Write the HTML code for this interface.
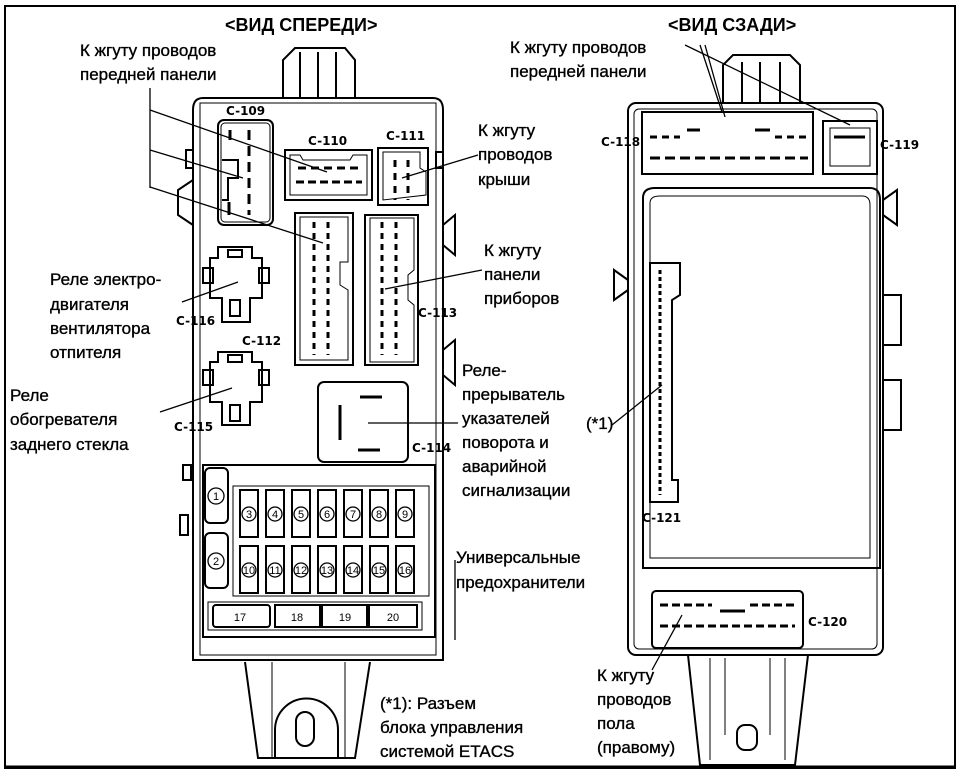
<!DOCTYPE html>
<html><head><meta charset="utf-8"><style>
html,body{margin:0;padding:0;background:#fff;}
svg{display:block}
text{font-family:"Liberation Sans",sans-serif;fill:#000;}
.l{font-size:17px;stroke:#000;stroke-width:0.35;}
.c{font-size:12px;font-weight:bold;font-family:"DejaVu Sans",sans-serif;}
.h{font-size:18px;font-weight:bold;}
</style></head><body>
<svg width="960" height="777" viewBox="0 0 960 777" xmlns="http://www.w3.org/2000/svg">
<rect x="5" y="6" width="950" height="762" fill="none" stroke="#000" stroke-width="2"/>
<line x1="5" y1="767" x2="955" y2="767" stroke="#000" stroke-width="3"/>
<g fill="none" stroke="#000" stroke-width="2">
<path d="M283,98 L283,60 L295,48 L345,48 L355,60 L355,98"/>
<line x1="300" y1="52" x2="300" y2="98"/><line x1="318" y1="52" x2="318" y2="98"/><line x1="336" y1="52" x2="336" y2="98"/>
<path d="M203,98 L433,98 Q443,98 443,110 L443,660 L193,660 L193,110 Q193,98 203,98 Z"/>
<path d="M200,103 L436,103 L436,655 L200,655 Z" stroke-width="1"/>
<path d="M193,180 L178,190 L178,215 L193,225"/><path d="M443,225 L455,215 L455,255 L443,245"/><path d="M443,350 L455,340 L455,385 L443,375"/>
<rect x="186" y="150" width="7" height="18"/><rect x="436" y="152" width="7" height="16"/>
<rect x="183" y="465" width="8" height="15"/><rect x="180" y="515" width="8" height="20"/>
<rect x="218" y="120" width="55" height="105" rx="6"/>
<rect x="221" y="123" width="49" height="99" rx="4" stroke-width="1"/>
<path d="M222,160 L238,160 L238,178 L228,178 L228,200 L222,200"/>
<line x1="230" y1="130" x2="230" y2="140" stroke-width="3"/>
<line x1="249" y1="130" x2="249" y2="215" stroke-width="3" stroke-dasharray="10,6"/>
<line x1="229" y1="202" x2="229" y2="215" stroke-width="3"/>
<path d="M285,150 L372,150 L372,200 L285,200 Z"/>
<path d="M290,155 L300,155 L303,160 L350,160 L353,155 L367,155 L367,195 L290,195 Z" stroke-width="1"/>
<line x1="298" y1="168" x2="360" y2="168" stroke-width="3" stroke-dasharray="8,5"/>
<line x1="296" y1="182" x2="362" y2="182" stroke-width="3" stroke-dasharray="8,4"/>
<path d="M378,148 L428,148 L428,205 L378,205 Z"/>
<path d="M383,152 L420,152 L420,168 L426,172 L426,195 L383,200 Z" stroke-width="1"/>
<line x1="395" y1="160" x2="395" y2="200" stroke-width="3" stroke-dasharray="7,6"/>
<line x1="408" y1="160" x2="408" y2="200" stroke-width="3" stroke-dasharray="7,6"/>
<rect x="295" y="213" width="58" height="152"/>
<path d="M300,217 L348,217 L348,262 L340,262 L340,285 L348,290 L348,360 L300,360 Z" stroke-width="1"/>
<line x1="314" y1="222" x2="314" y2="355" stroke-width="3" stroke-dasharray="6,5"/>
<line x1="328" y1="222" x2="328" y2="355" stroke-width="3" stroke-dasharray="6,5"/>
<rect x="365" y="215" width="53" height="150"/>
<path d="M370,218 L414,218 L414,270 L408,275 L408,300 L414,305 L414,362 L370,362 Z" stroke-width="1"/>
<line x1="382" y1="222" x2="382" y2="355" stroke-width="3" stroke-dasharray="6,5"/>
<line x1="396" y1="222" x2="396" y2="355" stroke-width="3" stroke-dasharray="6,5"/>
<path d="M218,247 L252,247 L252,258 L262,258 L262,298 L250,298 L250,322 L222,322 L222,298 L210,298 L210,258 L218,258 Z"/>
<rect x="203" y="268" width="10" height="15"/><rect x="259" y="268" width="10" height="15"/><rect x="230" y="300" width="10" height="16"/><rect x="228" y="250" width="14" height="7"/>
<path d="M218,352 L252,352 L252,362 L262,362 L262,402 L250,402 L250,425 L222,425 L222,402 L210,402 L210,362 L218,362 Z"/>
<rect x="203" y="370" width="10" height="15"/><rect x="259" y="370" width="10" height="15"/><rect x="230" y="405" width="10" height="16"/><rect x="228" y="355" width="14" height="7"/>
<rect x="318" y="382" width="90" height="80" rx="6"/>
<line x1="340" y1="405" x2="340" y2="440" stroke-width="3"/>
<line x1="360" y1="397" x2="382" y2="397" stroke-width="3"/><line x1="358" y1="450" x2="380" y2="450" stroke-width="3"/>
<rect x="203" y="465" width="232" height="172"/>
<rect x="205" y="468" width="23" height="55" rx="5"/><rect x="205" y="533" width="23" height="55" rx="5"/>
<rect x="233" y="486" width="196" height="110" stroke-width="1"/>
<g id="r1">
<rect x="240" y="490" width="18" height="47"/><rect x="266" y="490" width="18" height="47"/><rect x="292" y="490" width="18" height="47"/><rect x="318" y="490" width="18" height="47"/><rect x="344" y="490" width="18" height="47"/><rect x="370" y="490" width="18" height="47"/><rect x="396" y="490" width="18" height="47"/>
</g>
<use href="#r1" y="56"/>
<g stroke-width="1.3" id="cr">
<circle cx="249" cy="514" r="7"/><circle cx="275" cy="514" r="7"/><circle cx="301" cy="514" r="7"/><circle cx="327" cy="514" r="7"/><circle cx="353" cy="514" r="7"/><circle cx="379" cy="514" r="7"/><circle cx="405" cy="514" r="7"/>
</g>
<use href="#cr" y="56"/>
<circle cx="216" cy="496" r="8" stroke-width="1.3"/><circle cx="216" cy="561" r="8" stroke-width="1.3"/>
<rect x="208" y="602" width="214" height="28" stroke-width="1"/>
<rect x="213" y="605" width="57" height="22" rx="3"/><rect x="275" y="605" width="45" height="22"/><rect x="322" y="605" width="45" height="22"/><rect x="369" y="605" width="48" height="22"/>
<path d="M245,662 L258,758 L355,758 L370,662"/>
<line x1="272" y1="662" x2="272" y2="758" stroke-width="1"/><line x1="345" y1="662" x2="345" y2="758" stroke-width="1"/>
<path d="M275,757 L275,730 A30,30 0 0 1 338,730 L338,757"/>
<rect x="296" y="712" width="18" height="34" rx="9"/>
<!-- REAR -->
<path d="M723,103 L723,65 L733,55 L790,55 L800,65 L800,103"/>
<line x1="742" y1="62" x2="742" y2="103"/><line x1="760" y1="62" x2="760" y2="103"/><line x1="780" y1="62" x2="780" y2="103"/>
<rect x="628" y="103" width="255" height="552" rx="8"/>
<rect x="634" y="109" width="243" height="540" rx="5" stroke-width="1"/>
<rect x="642" y="112" width="171" height="62"/>
<line x1="650" y1="137" x2="680" y2="137" stroke-width="3" stroke-dasharray="7,5"/><line x1="687" y1="130" x2="700" y2="130" stroke-width="3"/><line x1="755" y1="130" x2="770" y2="130" stroke-width="3"/><line x1="775" y1="137" x2="808" y2="137" stroke-width="3" stroke-dasharray="7,5"/>
<line x1="650" y1="158" x2="808" y2="158" stroke-width="3" stroke-dasharray="10,5"/>
<rect x="823" y="121" width="54" height="53"/><rect x="830" y="128" width="40" height="38" stroke-width="1"/><line x1="834" y1="137" x2="865" y2="137" stroke-width="3"/>
<path d="M643,568 L643,198 Q643,188 655,188 L870,188 Q880,188 880,200 L880,568 Z"/>
<path d="M650,558 L650,203 Q650,196 660,196 L862,196 Q870,196 870,205 L870,558 Z" stroke-width="1"/>
<path d="M650,263 L680,263 L680,295 L672,300 L672,480 L678,480 L678,502 L650,502 Z"/>
<line x1="660" y1="270" x2="660" y2="495" stroke-width="3" stroke-dasharray="4,3"/>
<rect x="652" y="591" width="151" height="57" rx="4"/>
<line x1="660" y1="605" x2="712" y2="605" stroke-width="3" stroke-dasharray="8,4"/><line x1="720" y1="611" x2="745" y2="611" stroke-width="3"/><line x1="750" y1="605" x2="795" y2="605" stroke-width="3" stroke-dasharray="8,4"/>
<line x1="660" y1="626" x2="795" y2="626" stroke-width="3" stroke-dasharray="8,4"/>
<path d="M688,655 L700,765 L795,765 L808,655"/>
<line x1="710" y1="658" x2="710" y2="760" stroke-width="1"/><line x1="725" y1="658" x2="725" y2="735" stroke-width="1"/><line x1="770" y1="658" x2="770" y2="735" stroke-width="1"/><line x1="785" y1="658" x2="785" y2="760" stroke-width="1"/>
<rect x="737" y="725" width="20" height="25" rx="8"/>
<path d="M883,200 L897,190 L897,225 L883,215"/><path d="M628,280 L614,270 L614,300 L628,290"/>
<rect x="883" y="295" width="18" height="50"/><rect x="883" y="380" width="18" height="50"/>
<g stroke-width="1.3">
<line x1="150" y1="88" x2="150" y2="188"/>
<line x1="150" y1="110" x2="327" y2="172"/><line x1="150" y1="150" x2="243" y2="178"/><line x1="150" y1="187" x2="323" y2="243"/>
<line x1="478" y1="155" x2="402" y2="178"/><line x1="482" y1="270" x2="385" y2="289"/>
<line x1="182" y1="302" x2="238" y2="282"/><line x1="160" y1="412" x2="232" y2="388"/>
<line x1="458" y1="423" x2="368" y2="423"/>
<line x1="455" y1="560" x2="455" y2="640"/>
<line x1="700" y1="45" x2="722" y2="112"/><line x1="705" y1="45" x2="725" y2="117"/>
<line x1="685" y1="45" x2="850" y2="125"/>
<line x1="612" y1="425" x2="662" y2="385"/>
<line x1="652" y1="670" x2="682" y2="615"/>
</g>
</g>
<text class="h" x="225" y="31">&lt;ВИД СПЕРЕДИ&gt;</text>
<text class="h" x="668" y="31">&lt;ВИД СЗАДИ&gt;</text>
<text class="c" x="226" y="115">C-109</text><text class="c" x="308" y="145">C-110</text><text class="c" x="386" y="140">C-111</text>
<text class="c" x="418" y="317">C-113</text><text class="c" x="242" y="345">C-112</text><text class="c" x="176" y="325">C-116</text>
<text class="c" x="174" y="431">C-115</text><text class="c" x="412" y="452">C-114</text>
<text class="c" x="601" y="146">C-118</text><text class="c" x="880" y="149">C-119</text><text class="c" x="642" y="522">C-121</text><text class="c" x="808" y="626">C-120</text>
<g style="font-size:11px" text-anchor="middle">
<text x="216" y="500">1</text><text x="216" y="565">2</text>
<text x="249" y="518">3</text><text x="275" y="518">4</text><text x="301" y="518">5</text><text x="327" y="518">6</text><text x="353" y="518">7</text><text x="379" y="518">8</text><text x="405" y="518">9</text>
<text x="249" y="574">10</text><text x="275" y="574">11</text><text x="301" y="574">12</text><text x="327" y="574">13</text><text x="353" y="574">14</text><text x="379" y="574">15</text><text x="405" y="574">16</text>
<text x="240" y="621">17</text><text x="297" y="621">18</text><text x="345" y="621">19</text><text x="393" y="621">20</text>
</g>
<g class="l">
<text x="80" y="56">К жгуту проводов</text><text x="80" y="80">передней панели</text>
<text x="478" y="136">К жгуту</text><text x="478" y="160">проводов</text><text x="478" y="185">крыши</text>
<text x="484" y="256">К жгуту</text><text x="484" y="280">панели</text><text x="484" y="304">приборов</text>
<text x="462" y="376">Реле-</text><text x="462" y="400">прерыватель</text><text x="462" y="424">указателей</text><text x="462" y="448">поворота и</text><text x="462" y="472">аварийной</text><text x="462" y="496">сигнализации</text>
<text x="456" y="563">Универсальные</text><text x="456" y="588">предохранители</text>
<text x="380" y="709">(*1): Разъем</text><text x="380" y="733">блока управления</text><text x="380" y="757">системой ETACS</text>
<text x="50" y="285">Реле электро-</text><text x="50" y="310">двигателя</text><text x="50" y="334">вентилятора</text><text x="50" y="358">отпителя</text>
<text x="10" y="401">Реле</text><text x="10" y="425">обогревателя</text><text x="10" y="450">заднего стекла</text>
<text x="510" y="53">К жгуту проводов</text><text x="510" y="77">передней панели</text>
<text x="586" y="429">(*1)</text>
<text x="597" y="681">К жгуту</text><text x="597" y="705">проводов</text><text x="597" y="729">пола</text><text x="597" y="753">(правому)</text>
</g>
</svg>
</body></html>
